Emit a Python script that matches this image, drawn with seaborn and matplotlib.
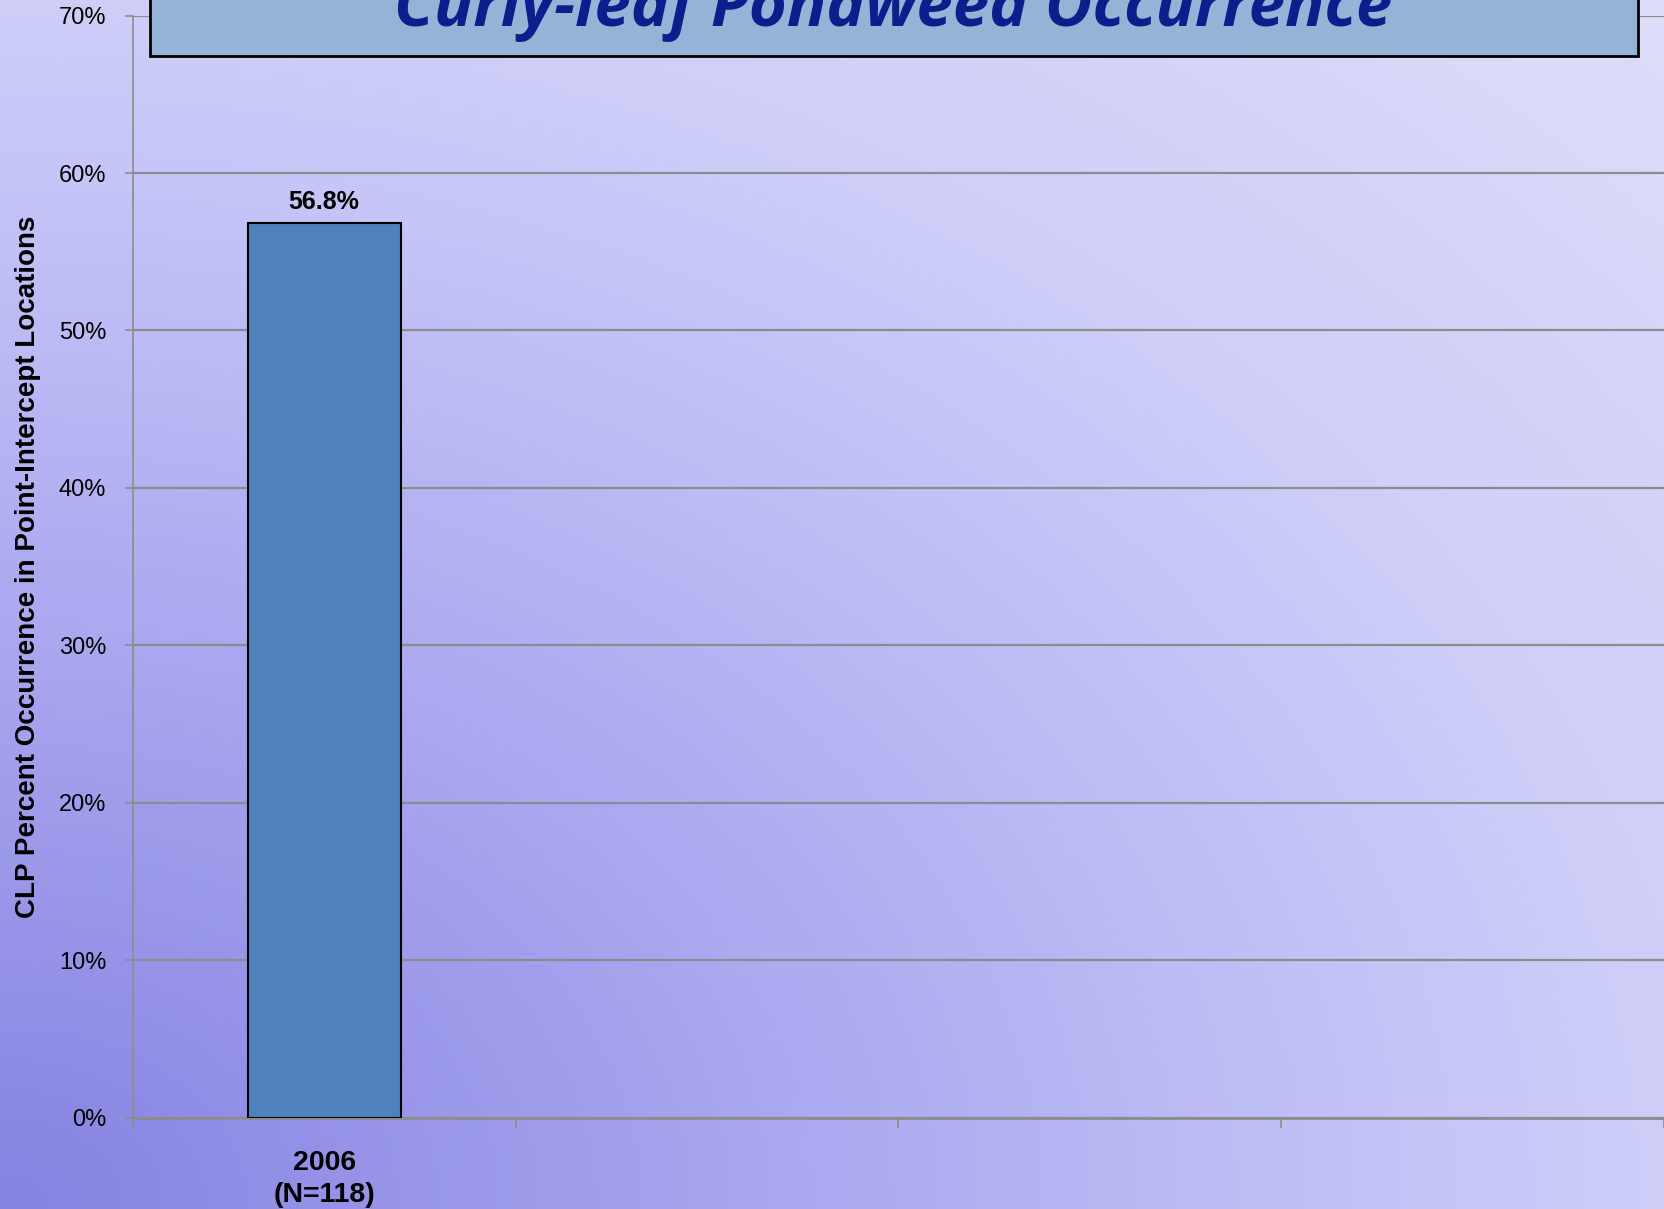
import numpy as np
import pandas as pd
import matplotlib.pyplot as plt
import seaborn as sns
from matplotlib.patches import Rectangle

# data
years = ["2006"]
samples = [118]
occurrence = [56.8]
n_slots = 4  # chart leaves room for four survey years

labels = [f"{y}\n(N={n})" for y, n in zip(years, samples)]
df = pd.DataFrame({"year": labels, "pct": occurrence})

sns.set_style("white")
plt.rcParams["font.family"] = ["Liberation Sans", "DejaVu Sans"]
plt.rcParams["text.color"] = "black"
plt.rcParams["axes.labelcolor"] = "black"
plt.rcParams["xtick.color"] = "black"
plt.rcParams["ytick.color"] = "black"

W, H = 1664, 1209
fig = plt.figure(figsize=(W / 100, H / 100), dpi=100)

# background gradient (dark at bottom-left corner, light towards top/right)
bg = fig.add_axes([0, 0, 1, 1], zorder=-10)
xx, yy = np.meshgrid(np.linspace(0, 1, 400), np.linspace(0, 1, 300))
t = np.sqrt(xx ** 2 + yy ** 2)
stops = [0.0, 0.5, 0.8, 1.0, 1.42]
cols = np.array([[133, 130, 226], [172, 170, 240], [193, 193, 247],
                 [206, 206, 249], [222, 222, 250]]) / 255
img = np.stack([np.interp(t, stops, cols[:, k]) for k in range(3)], axis=-1)
bg.imshow(img, origin="lower", extent=[0, 1, 0, 1], aspect="auto")
bg.axis("off")

y_top, y_bot = 15.6, 1117.5
ax = fig.add_axes([132.7 / W, 1 - y_bot / H, 1 - 132.7 / W, (y_bot - y_top) / H])
ax.patch.set_alpha(0)

sns.barplot(data=df, x="year", y="pct", color="#4f81bd", edgecolor="black",
            linewidth=1.5, width=0.4, saturation=1, ax=ax, zorder=3)

ax.set_xlim(-0.5, n_slots - 0.5)
ax.set_ylim(0, 70)
ax.set_yticks(range(0, 71, 10))
ax.set_yticklabels([f"{v}%" for v in range(0, 71, 10)], fontsize=17)
ax.yaxis.grid(True, color="#8c8c8c", linewidth=1.6, zorder=0)
ax.set_axisbelow(True)

ax.set_xticks(range(len(labels)))
ax.set_xticklabels(labels, fontsize=20.5, fontweight="bold", linespacing=1.3)
ax.set_xticks(np.arange(-0.5, n_slots, 1), minor=True)
ax.tick_params(axis="x", which="major", bottom=False, pad=20)
ax.tick_params(axis="x", which="minor", bottom=True, length=7,
               color="#8c8c8c", width=1.2)
ax.tick_params(axis="y", left=True, length=6, color="#8c8c8c", width=1.2, pad=13)

for s in ["top", "right"]:
    ax.spines[s].set_visible(False)
ax.spines["left"].set_color("#8c8c8c")
ax.spines["left"].set_linewidth(1.2)
ax.spines["bottom"].set_color("#8c8c8c")
ax.spines["bottom"].set_linewidth(2.0)

ax.set_xlabel("")
ax.set_ylabel("CLP Percent Occurrence in Point-Intercept Locations",
              fontsize=20, fontweight="bold")
ax.yaxis.set_label_coords(-92 / (W - 132.7), 0.5)

for i, v in enumerate(occurrence):
    ax.text(i, v + 0.6, f"{v}%", ha="center", va="bottom",
            fontsize=18, fontweight="bold", zorder=4)

# title box, cut off at the top of the slide
fig.patches.append(Rectangle((150 / W, 1 - 56 / H), (1638 - 150) / W, 80 / H,
                             transform=fig.transFigure, facecolor="#95b3d7",
                             edgecolor="black", linewidth=2, zorder=5))
fig.text(893 / W, 1 - 26 / H, "Curly-leaf Pondweed Occurrence",
         ha="center", va="baseline", fontsize=47, fontweight="bold",
         fontstyle="italic", color="#0b1f8c", family=["Open Sans", "DejaVu Sans"],
         zorder=6)

fig.savefig("out.png", dpi=100)
